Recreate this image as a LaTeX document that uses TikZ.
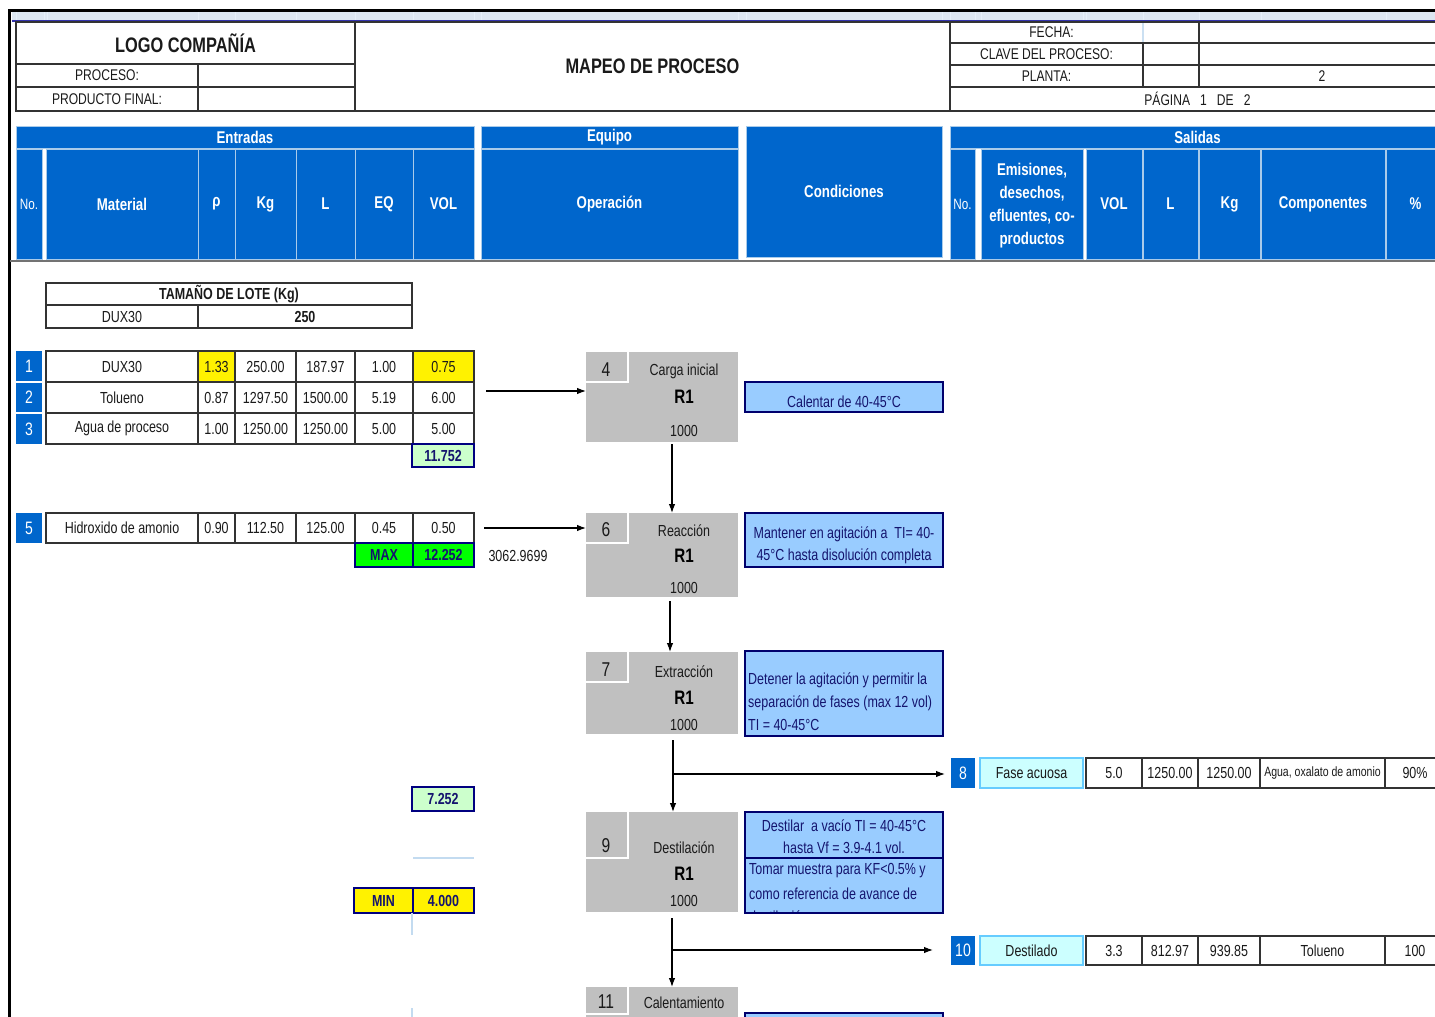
\documentclass[tikz,border=0pt]{standalone}
\usepackage{fontspec}
\setmainfont[FakeStretch=0.78]{Liberation Sans}
\usetikzlibrary{arrows.meta}
\definecolor{hblue}{HTML}{0066CC}
\definecolor{hline}{HTML}{A9CBEA}
\definecolor{navy}{HTML}{000080}
\definecolor{lgreen}{HTML}{CCFFCC}
\definecolor{vgreen}{HTML}{00FF00}
\definecolor{opgray}{HTML}{C0C0C0}
\definecolor{condblue}{HTML}{99CCFF}
\definecolor{lcyan}{HTML}{CCFFFF}
\definecolor{cyanline}{HTML}{66CCFF}
\definecolor{strip}{HTML}{DCE6F1}
\definecolor{txt}{HTML}{1A1A1A}
\definecolor{ctxt}{HTML}{14146E}
% \cellbox{name}{x1}{y1}{x2}{y2}{style}{text}
\newcommand\cellbox[7]{%
  \node[base cell,#6,minimum width={(#4-#2)*1pt},minimum height={(#5-#3)*1pt}] (#1) at (#2,#3) {#7};}
% one input row: id, y1, y2, material, rho, kg, L, EQ, VOL
\newcommand\inrow[9]{%
  \cellbox{#1m}{46}{#2}{198}{#3}{gridc}{#4}
  \cellbox{#1r}{198}{#2}{235}{#3}{rhost}{#5}
  \cellbox{#1k}{235}{#2}{296}{#3}{gridc}{#6}
  \cellbox{#1l}{296}{#2}{355}{#3}{gridc}{#7}
  \cellbox{#1e}{355}{#2}{413}{#3}{gridc}{#8}
  \cellbox{#1v}{413}{#2}{474}{#3}{volst}{#9}}
% one output row: id, y1, y2, label, vol, L, kg, comp, pct
\newcommand\outrow[9]{%
  \cellbox{o#1n}{951}{#2}{975}{#3}{nobox}{#1}
  \cellbox{o#1d}{980}{#2}{1083}{#3}{outn}{#4}
  \cellbox{o#1v}{1086}{#2}{1142}{#3}{gridc}{#5}
  \cellbox{o#1l}{1142}{#2}{1198}{#3}{gridc}{#6}
  \cellbox{o#1k}{1198}{#2}{1260}{#3}{gridc}{#7}
  \cellbox{o#1c}{1260}{#2}{1385}{#3}{gridc}{#8}
  \cellbox{o#1p}{1385}{#2}{1445}{#3}{gridc}{#9}}
\tikzset{
  base cell/.style={anchor=north west,inner sep=0pt,outer sep=0pt,align=center,
    text=txt,font=\fontsize{16}{18}\selectfont},
  gridc/.style={draw=black!80,line width=1.2pt,fill=white},
  headc/.style={draw=black!80,line width=1.2pt,fill=white,font=\fontsize{15.5}{17}\selectfont},
  bluec/.style={fill=hblue,draw=hline,line width=1pt,text=white,
    font=\fontsize{17}{23}\selectfont\bfseries},
  nobox/.style={fill=hblue,text=white,font=\fontsize{18}{20}\selectfont},
  rhost/.style={gridc}, volst/.style={gridc},
  yelc/.style={gridc,fill=yellow},
  totc/.style={draw=navy,line width=2.2pt,fill=lgreen,text=ctxt,
    font=\fontsize{16}{18}\selectfont\bfseries},
  maxc/.style={totc,fill=vgreen},
  minc/.style={totc,fill=yellow},
  opc/.style={fill=opgray},
  opnum/.style={text=txt,font=\fontsize{20}{22}\selectfont},
  optxt/.style={text=txt,font=\fontsize{16}{18}\selectfont},
  opr/.style={text=black,font=\fontsize{19.5}{21}\selectfont\bfseries},
  condc/.style={fill=condblue,draw=navy!85!black,line width=1.3pt},
  ctext/.style={inner sep=0pt,text=ctxt,font=\fontsize{16}{18}\selectfont},
  outn/.style={fill=lcyan,draw=cyanline,line width=1.3pt},
  arr/.style={-{Latex[length=9pt,width=6.5pt]},line width=1.1pt,black},
  faint/.style={draw=hline!70,line width=1.2pt}
}
\begin{document}
\begin{tikzpicture}[x=1pt,y=-1pt]
\useasboundingbox (0,0) rectangle (1435,1017);
\fill[white] (0,0) rectangle (1435,1017);

% sheet frame and column strip
\fill[strip] (12,12) rectangle (1440,20);
\foreach \cx in {16,44,47,198,235,296,355,413,474,481,738,746,942,950,975,981,1083,1086,1143,1199,1261,1386}
  \draw[white!70!hline,line width=0.8pt] (\cx,12) -- (\cx,20);
\draw[blue!60!black!80,line width=1.5pt] (12,21) -- (1440,21);
\draw[black,line width=3pt] (8,10) -- (1440,10);
\draw[black,line width=3pt] (9.5,10) -- (9.5,1020);

% title block
\cellbox{logo}{16}{22}{355}{64}{headc,font=\fontsize{21}{24}\selectfont\bfseries}{LOGO COMPAÑÍA}
\cellbox{proc}{16}{64}{198}{87}{headc}{PROCESO:}
\cellbox{procv}{198}{64}{355}{87}{headc}{}
\cellbox{prod}{16}{87}{198}{111}{headc}{PRODUCTO FINAL:}
\cellbox{prodv}{198}{87}{355}{111}{headc}{}
\cellbox{mapeo}{355}{22}{950}{111}{headc,font=\fontsize{21}{24}\selectfont\bfseries}{MAPEO DE PROCESO}
\cellbox{fecha}{950}{22}{1143}{43}{headc}{\hspace*{10pt}FECHA:}
\cellbox{fechaa}{1143}{22}{1199}{43}{headc,draw=hline!60}{}
\cellbox{fechab}{1199}{22}{1445}{43}{headc}{}
\cellbox{clave}{950}{43}{1143}{65}{headc}{CLAVE DEL PROCESO:}
\cellbox{clavea}{1143}{43}{1199}{65}{headc}{}
\cellbox{claveb}{1199}{43}{1445}{65}{headc}{}
\cellbox{planta}{950}{65}{1143}{87}{headc}{PLANTA:}
\cellbox{plantaa}{1143}{65}{1199}{87}{headc}{}
\cellbox{plantab}{1199}{65}{1445}{87}{headc}{2}
\cellbox{pagina}{950}{87}{1445}{111}{headc}{PÁGINA\ \ \ 1\ \ \ DE\ \ \ 2}
\draw[black!80,line width=1.2pt] (fecha.north west) -- (fechab.north east);
\draw[black!80,line width=1.2pt] (fechaa.north east) -- (plantaa.south east);
\draw[black!80,line width=1.2pt] (fecha.south west) -- (fechab.south east);

% column headings
\cellbox{hent}{16}{126}{474}{148}{bluec}{Entradas}
\cellbox{hno}{16}{149}{42}{259}{bluec,font=\fontsize{15}{17}\selectfont}{No.}
\cellbox{hmat}{46}{149}{198}{259}{bluec}{Material}
\cellbox{hrho}{198}{149}{235}{259}{bluec}{ρ}
\cellbox{hkg}{235}{149}{296}{259}{bluec}{Kg}
\cellbox{hl}{296}{149}{355}{259}{bluec}{L}
\cellbox{heq}{355}{149}{413}{259}{bluec}{EQ}
\cellbox{hvol}{413}{149}{474}{259}{bluec}{VOL}
\cellbox{hequ}{481}{126}{738}{148}{bluec}{Equipo}
\cellbox{hop}{481}{149}{738}{259}{bluec}{Operación}
\cellbox{hcond}{746}{126}{942}{257}{bluec}{Condiciones}
\cellbox{hsal}{950}{126}{1445}{148}{bluec}{Salidas}
\cellbox{hsno}{950}{149}{975}{259}{bluec,font=\fontsize{15}{17}\selectfont}{No.}
\cellbox{hemi}{981}{149}{1083}{259}{bluec,text depth=-6pt}{Emisiones,\\desechos,\\efluentes, co-\\productos}
\cellbox{hsvol}{1086}{149}{1142}{259}{bluec}{VOL}
\cellbox{hsl}{1143}{149}{1198}{259}{bluec}{L}
\cellbox{hskg}{1199}{149}{1260}{259}{bluec}{Kg}
\cellbox{hcomp}{1261}{149}{1385}{259}{bluec}{Componentes}
\cellbox{hpct}{1386}{149}{1445}{259}{bluec}{\%}
\draw[black!55,line width=2pt] (10,261) -- (1440,261);

% batch size
\cellbox{lote}{46}{283}{412}{305}{gridc,font=\fontsize{16}{18}\selectfont\bfseries}{TAMAÑO DE LOTE (Kg)}
\cellbox{lotem}{46}{305}{198}{328}{gridc}{DUX30}
\cellbox{lotev}{198}{305}{412}{328}{gridc,font=\fontsize{16}{18}\selectfont\bfseries}{250}

% inputs
\cellbox{i1}{16}{351}{42}{381}{nobox}{1}
\cellbox{i2}{16}{383}{42}{412}{nobox}{2}
\cellbox{i3}{16}{414}{42}{444}{nobox}{3}
\cellbox{i5}{16}{513}{42}{543}{nobox}{5}
\tikzset{rhost/.style={yelc},volst/.style={yelc}}
\inrow{a}{351}{382}{DUX30}{1.33}{250.00}{187.97}{1.00}{0.75}
\tikzset{rhost/.style={gridc},volst/.style={gridc}}
\inrow{b}{382}{413}{Tolueno}{0.87}{1297.50}{1500.00}{5.19}{6.00}
\inrow{c}{413}{444}{Agua de proceso}{1.00}{1250.00}{1250.00}{5.00}{5.00}
\inrow{d}{513}{543}{Hidroxido de amonio}{0.90}{112.50}{125.00}{0.45}{0.50}

% volume checks
\cellbox{tot1}{412}{444}{474}{467}{totc}{11.752}
\cellbox{maxl}{355}{543}{413}{567}{maxc}{MAX}
\cellbox{maxv}{413}{543}{474}{567}{maxc}{12.252}
\node[text=txt,font=\fontsize{16}{18}\selectfont] (dens) at (518,556) {3062.9699};
\cellbox{tot2}{412}{787}{474}{811}{totc}{7.252}
\cellbox{minl}{354}{888}{413}{913}{minc}{MIN}
\cellbox{minv}{413}{888}{474}{913}{minc}{4.000}
\draw[faint] (413,858) -- (474,858);
\draw[faint] (412,913) -- (412,935);
\draw[faint] (412,1008) -- (412,1020);

% operations
\cellbox{op4}{586}{352}{738}{442}{opc}{}
\cellbox{op6}{586}{513}{738}{597}{opc}{}
\cellbox{op7}{586}{652}{738}{734}{opc}{}
\cellbox{op9}{586}{812}{738}{912}{opc}{}
\cellbox{op11}{586}{987}{738}{1030}{opc}{}
\cellbox{n4}{586}{352}{628}{382}{opc}{}
\cellbox{n6}{586}{513}{628}{543}{opc}{}
\cellbox{n7}{586}{652}{628}{682}{opc}{}
\cellbox{n9}{586}{812}{628}{858}{opc}{}
\cellbox{n11}{586}{987}{628}{1014}{opc}{}
\foreach \n in {n4,n6,n7,n9,n11}
  \draw[white,line width=1.3pt] (\n.north east) -- (\n.south east) -- (\n.south west);
\node[opnum] (l4) at (606,370) {4};
\node[opnum] (l6) at (606,530) {6};
\node[opnum] (l7) at (606,670) {7};
\node[opnum] (l9) at (606,846) {9};
\node[opnum] (l11) at (606,1002) {11};
\node[optxt] (t4) at (684,371) {Carga inicial};
\node[opr] (r4) at (684,397) {R1};
\node[optxt] (k4) at (684,431) {1000};
\node[optxt] (t6) at (684,531) {Reacción};
\node[opr] (r6) at (684,556) {R1};
\node[optxt] (k6) at (684,588) {1000};
\node[optxt] (t7) at (684,672) {Extracción};
\node[opr] (r7) at (684,698) {R1};
\node[optxt] (k7) at (684,725) {1000};
\node[optxt] (t9) at (684,848) {Destilación};
\node[opr] (r9) at (684,874) {R1};
\node[optxt] (k9) at (684,901) {1000};
\node[optxt] (t11) at (684,1003) {Calentamiento};

% conditions
\cellbox{c4}{745}{382}{943}{412}{condc}{}
\node[ctext] (c4a) at (844,402) {Calentar de 40-45°C};
\cellbox{c6}{745}{513}{943}{567}{condc}{}
\node[ctext] (c6a) at (844,534) {Mantener en agitación a\ \ TI= 40-};
\node[ctext] (c6b) at (844,556) {45°C hasta disolución completa};
\cellbox{c7}{745}{651}{943}{736}{condc}{}
\node[ctext,anchor=west] (c7a) at (748,680) {Detener la agitación y permitir la};
\node[ctext,anchor=west] (c7b) at (748,703) {separación de fases (max 12 vol)};
\node[ctext,anchor=west] (c7c) at (748,725) {TI = 40-45°C};
\cellbox{c9a}{745}{812}{943}{858}{condc}{}
\node[ctext] (c9a1) at (844,826) {Destilar\ \ a vacío TI = 40-45°C};
\node[ctext] (c9a2) at (844,848) {hasta Vf = 3.9-4.1 vol.};
\cellbox{c9b}{745}{858}{943}{913}{condc}{}
\begin{scope}
  \clip (c9b.north west) rectangle (c9b.south east);
  \node[ctext,anchor=west] (c9b1) at (749,871) {Tomar muestra para KF<0.5\% y};
  \node[ctext,anchor=west] (c9b2) at (749,894) {como referencia de avance de};
  \node[ctext,anchor=west] (c9b3) at (749,917) {destilación};
\end{scope}
\draw[navy!85!black,line width=1.3pt] (c9b.north west) rectangle (c9b.south east);
\cellbox{c11}{745}{1013}{943}{1040}{condc}{}

% outputs
\outrow{8}{758}{788}{Fase acuosa}{5.0}{1250.00}{1250.00}{\fontsize{13.5}{15}\selectfont Agua, oxalato de amonio}{90\%}
\outrow{10}{936}{965}{Destilado}{3.3}{812.97}{939.85}{Tolueno}{100}

% flow connectors
\coordinate (in1) at (486,391);
\coordinate (in5) at (484,528);
\draw[arr] (in1) -- (in1 -| op4.west);
\draw[arr] (in5) -- (in5 -| op6.west);
\coordinate (v1) at (672,444);
\coordinate (v2) at (670,601);
\coordinate (v3) at (673,740);
\coordinate (v4) at (672,918);
\draw[arr] (v1) -- (v1 |- op6.north);
\draw[arr] (v2) -- (v2 |- op7.north);
\draw[arr] (v3) -- (v3 |- op9.north);
\draw[arr] (v4) -- (v4 |- op11.north);
\coordinate (b8) at (673,774);
\coordinate (b10) at (673,950);
\draw[arr,shorten >=6pt] (b8) -- (b8 -| o8n.west);
\draw[arr,shorten >=18pt] (b10) -- (b10 -| o10n.west);
\end{tikzpicture}
\end{document}
